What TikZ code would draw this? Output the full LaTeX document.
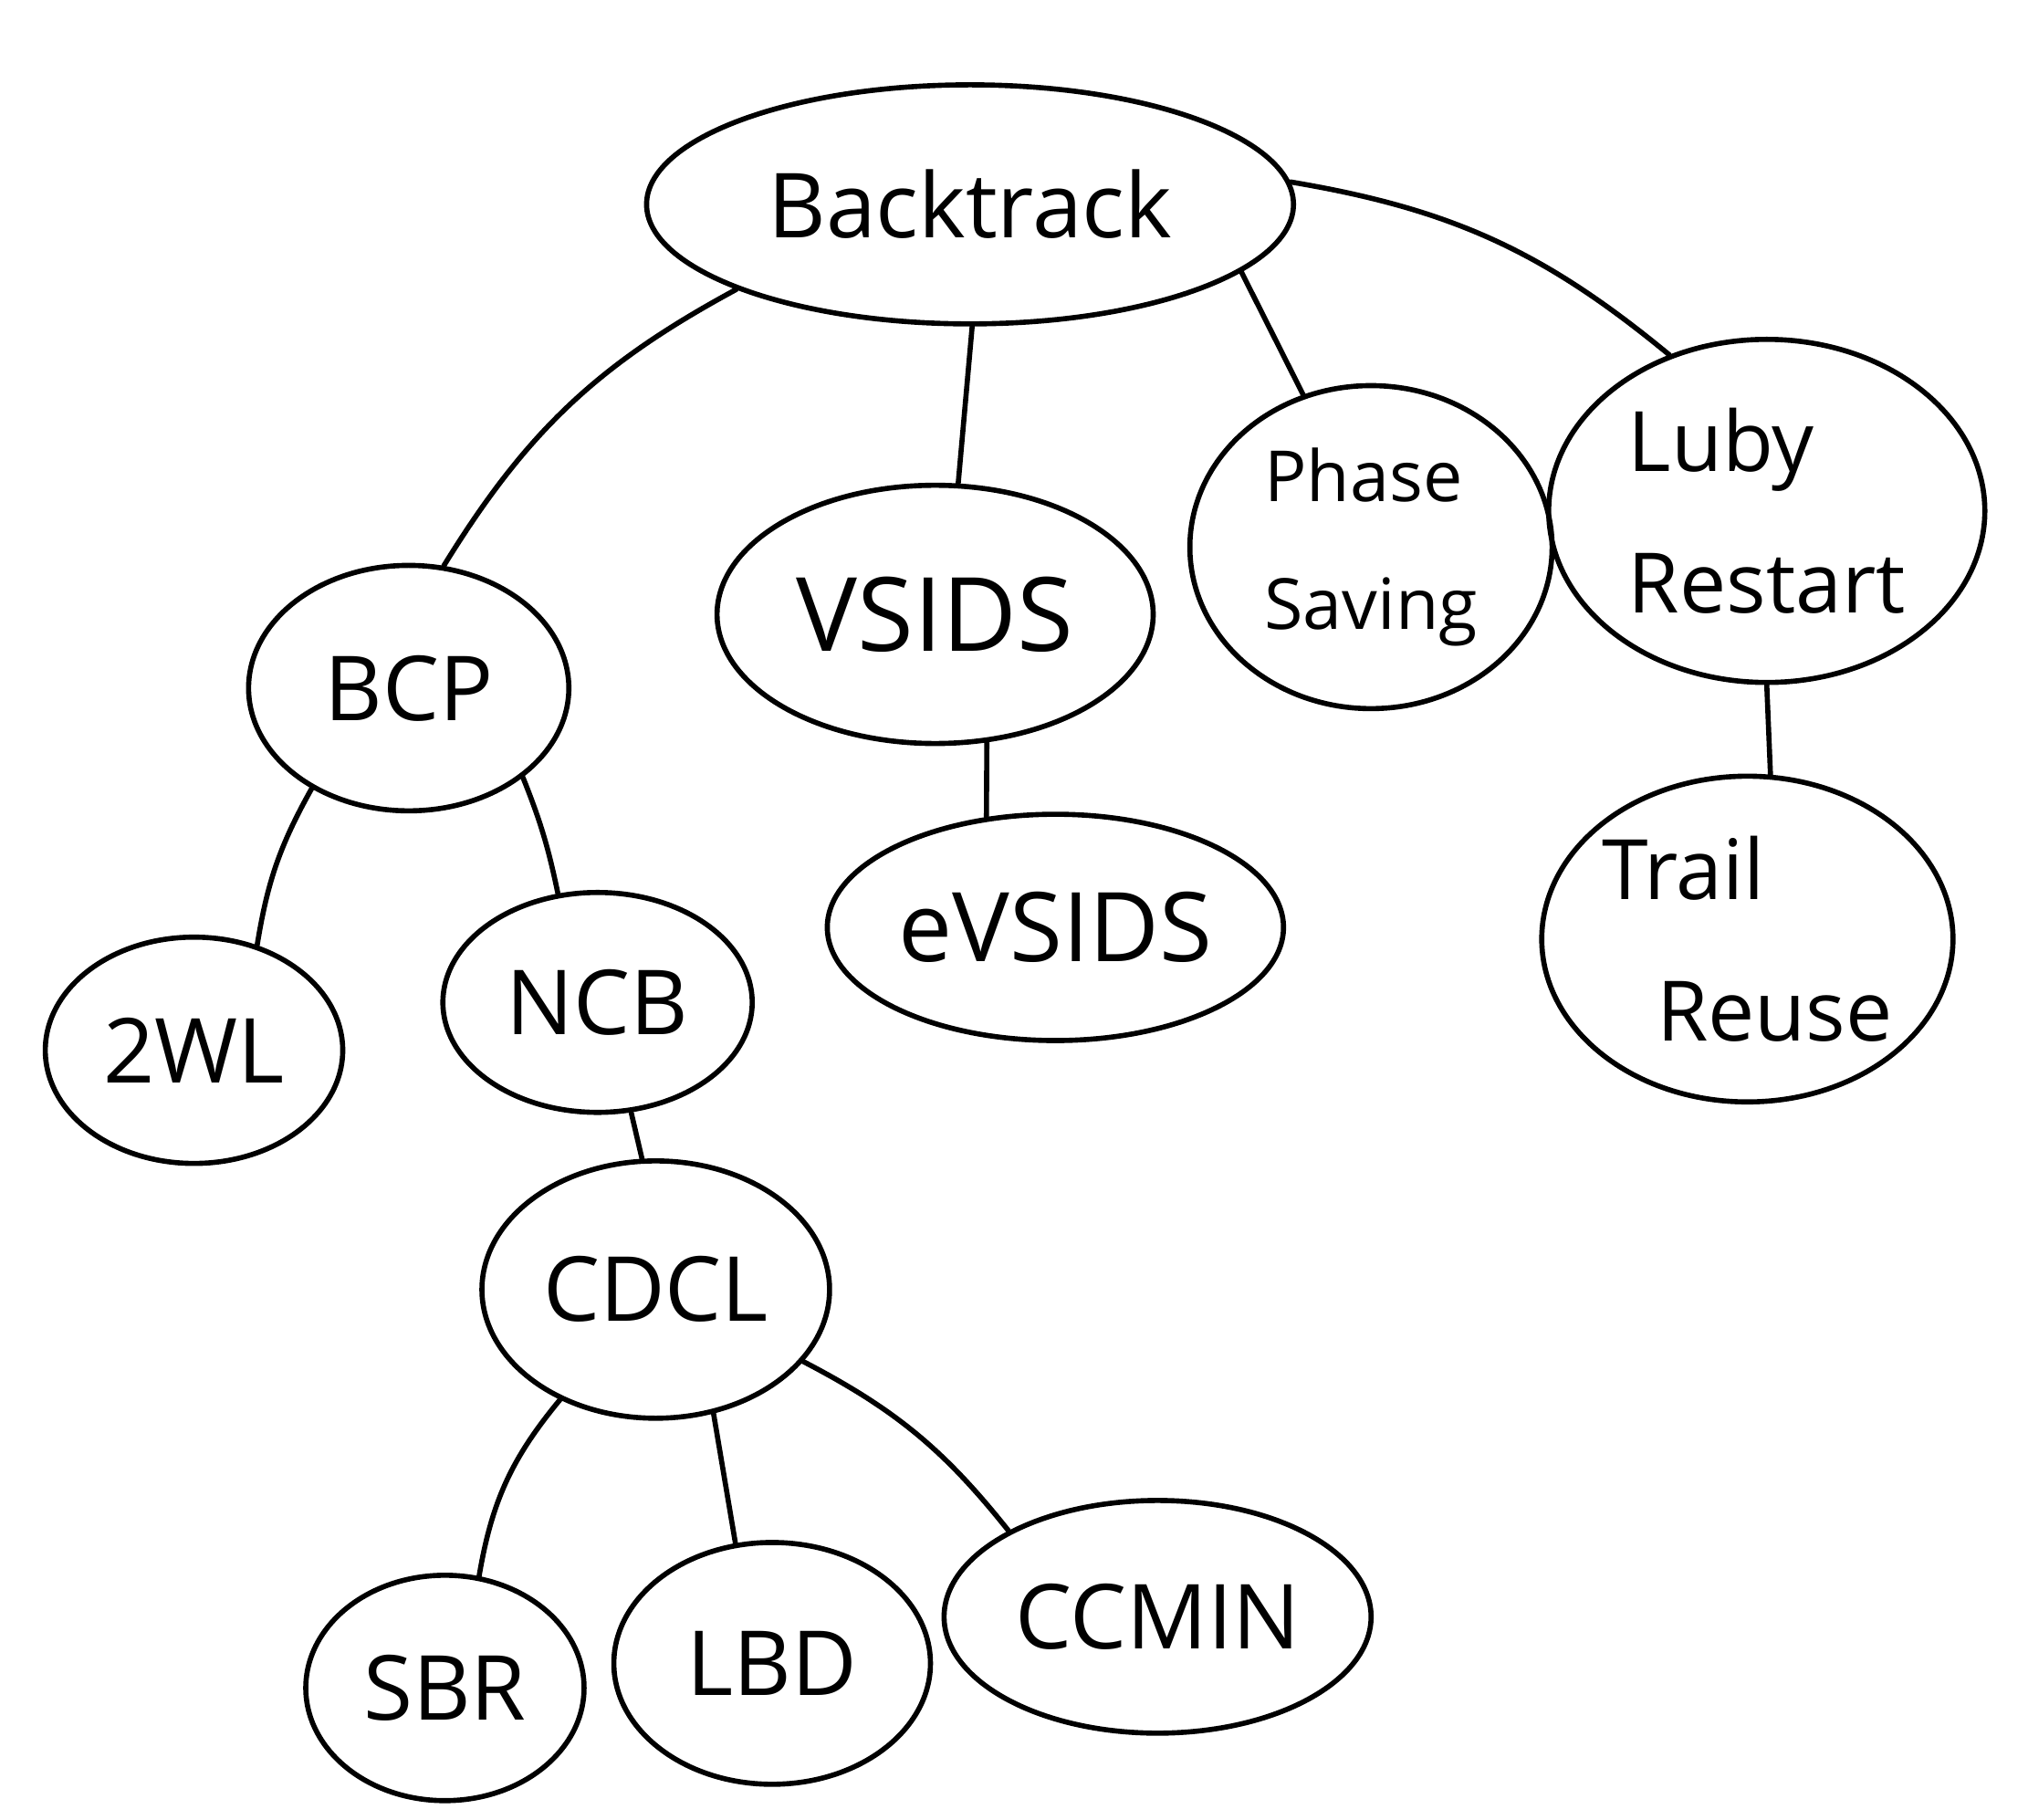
\documentclass[tikz,border=0pt]{standalone}
\usepackage{fontspec}
\setmainfont{Open Sans}
\usetikzlibrary{shapes.geometric}
\tikzset{
  bubble/.style={draw=black, line width=1.6pt, ellipse, inner sep=0pt, align=center,
    font=\fontsize{28}{36}\selectfont},
  link/.style={draw=black, line width=1.6pt, line cap=round}
}
\begin{document}
\begin{tikzpicture}[x=0.01417cm, y=-0.01417cm]
\useasboundingbox (0,0) rectangle (1568,1407);
\node[bubble, minimum width=7.09cm, minimum height=2.62cm] (bt) at (750,158) {Backtrack};
\node[bubble, minimum width=3.51cm, minimum height=2.69cm] (bcp) at (316,532) {BCP};
\node[bubble, minimum width=4.78cm, minimum height=2.83cm,
  font=\fontsize{32}{36}\selectfont] (vsids) at (723,475) {VSIDS};
\node[bubble, minimum width=3.97cm, minimum height=3.54cm, align=left,
  font=\fontsize{22}{40}\selectfont] (ps) at (1060,423) {Phase\\ Saving};
\node[bubble, minimum width=4.78cm, minimum height=3.76cm, align=left,
  font=\fontsize{26}{44}\selectfont] (luby) at (1366,395) {Luby\\ Restart};
\node[bubble, minimum width=3.26cm, minimum height=2.48cm] (twl) at (150,812) {2WL};
\node[bubble, minimum width=3.39cm, minimum height=2.41cm] (ncb) at (462,775) {NCB};
\node[bubble, minimum width=5.0cm, minimum height=2.48cm,
  font=\fontsize{30}{36}\selectfont] (evsids) at (816,717) {eVSIDS};
\node[bubble, minimum width=4.36cm, minimum height=3.57cm, align=left,
  font=\fontsize{26}{44}\selectfont] (trail) at (1351,726) {Trail\\ \hspace*{0.6cm}Reuse};
\node[bubble, minimum width=3.81cm, minimum height=2.82cm] (cdcl) at (507,997) {CDCL};
\node[bubble, minimum width=3.05cm, minimum height=2.47cm] (sbr) at (344,1305) {SBR};
\node[bubble, minimum width=3.47cm, minimum height=2.65cm] (lbd) at (597,1286) {LBD};
\node[bubble, minimum width=4.68cm, minimum height=2.55cm] (ccmin) at (895,1250) {CCMIN};

\draw[link] (bt.200) to[bend right=15] (bcp.74);
\draw[link] (bt.271) -- (vsids.80);
\draw[link] (bt.346) -- (ps.114);
\draw[link] (bt.4) to[bend left=15] (luby.122);
\draw[link] (bcp.226) to[bend right=10] (twl.59);
\draw[link] (bcp.322) to[bend left=5] (ncb.110);
\draw[link] (vsids.292) -- (evsids.122);
\draw[link] (luby.270) -- (trail.82);
\draw[link] (ncb.287) -- (cdcl.96);
\draw[link] (cdcl.229) to[bend right=15] (sbr.73);
\draw[link] (cdcl.295) -- (lbd.107);
\draw[link] (cdcl.334) to[bend left=12] (ccmin.150);
\end{tikzpicture}
\end{document}
